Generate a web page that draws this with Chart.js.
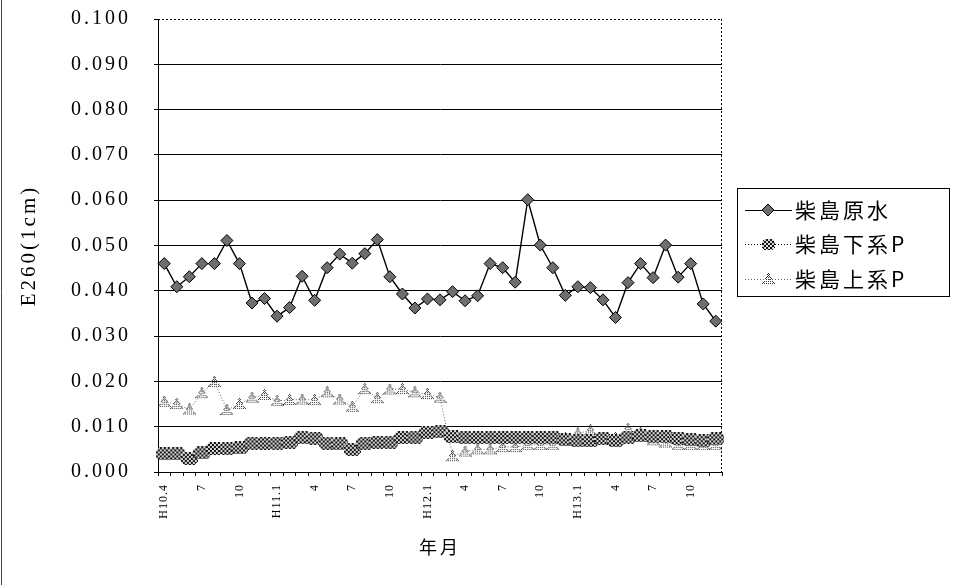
<!DOCTYPE html>
<html><head><meta charset="utf-8">
<script src="https://cdn.jsdelivr.net/npm/chart.js@4.4.0/dist/chart.umd.min.js"></script>
<style>
html,body{margin:0;padding:0;background:#fff;}
#wrap{position:relative;width:953px;height:585px;}
canvas{display:block;}
</style></head><body>
<div id="wrap"><canvas id="c" width="953" height="585"></canvas></div>
<script>
// ---- data ----
const categories = [
  "H10.4","H10.5","H10.6","H10.7","H10.8","H10.9","H10.10","H10.11","H10.12",
  "H11.1","H11.2","H11.3","H11.4","H11.5","H11.6","H11.7","H11.8","H11.9","H11.10","H11.11","H11.12",
  "H12.1","H12.2","H12.3","H12.4","H12.5","H12.6","H12.7","H12.8","H12.9","H12.10","H12.11","H12.12",
  "H13.1","H13.2","H13.3","H13.4","H13.5","H13.6","H13.7","H13.8","H13.9","H13.10","H13.11","H13.12"
];
const tickLabels = [
  "H10.4","","","7","","","10","","",
  "H11.1","","","4","","","7","","","10","","",
  "H12.1","","","4","","","7","","","10","","",
  "H13.1","","","4","","","7","","","10","",""
];
const seriesNames = ["柴島原水", "柴島下系P", "柴島上系P"];
const rawWater = [
  0.0460,0.0409,0.0431,0.0460,0.0460,0.0511,0.0460,0.0373,0.0383,0.0344,
  0.0363,0.0432,0.0379,0.0451,0.0481,0.0461,0.0482,0.0513,0.0431,0.0393,
  0.0362,0.0382,0.0380,0.0398,0.0378,0.0389,0.0460,0.0451,0.0419,0.0601,
  0.0501,0.0451,0.0390,0.0409,0.0407,0.0380,0.0341,0.0418,0.0460,0.0429,
  0.0501,0.0430,0.0460,0.0371,0.0333
];
const lowerP = [
  0.0040,0.0040,0.0030,0.0042,0.0052,0.0052,0.0053,0.0064,0.0064,0.0064,
  0.0066,0.0076,0.0075,0.0064,0.0062,0.0050,0.0064,0.0066,0.0066,0.0076,
  0.0077,0.0088,0.0089,0.0078,0.0076,0.0076,0.0076,0.0076,0.0076,0.0076,
  0.0076,0.0076,0.0071,0.0069,0.0069,0.0074,0.0069,0.0077,0.0080,0.0078,
  0.0078,0.0074,0.0071,0.0069,0.0073
];
const upperP = [
  0.0155,0.0150,0.0138,0.0174,0.0199,0.0137,0.0150,0.0164,0.0170,0.0157,
  0.0159,0.0160,0.0159,0.0176,0.0160,0.0144,0.0183,0.0163,0.0182,0.0183,
  0.0176,0.0172,0.0164,0.0035,0.0045,0.0050,0.0050,0.0055,0.0055,0.0060,
  0.0060,0.0060,0.0075,0.0085,0.0092,0.0075,0.0075,0.0095,0.0085,0.0070,
  0.0065,0.0060,0.0060,0.0060,0.0060
];
const yMin = 0, yMax = 0.1, yStep = 0.01;

// ---- marker images ----
function makeChecker(w, h){
  const c = document.createElement('canvas'); c.width = w; c.height = h;
  const g = c.getContext('2d'); const img = g.createImageData(w, h);
  const mx = (w - 1) / 2, my = (h - 1) / 2;
  for (let j = 0; j < h; j++) for (let i = 0; i < w; i++) {
    const dx = Math.abs(i - mx), dy = Math.abs(j - my);
    if (dx + dy > Math.max(mx, my) + 3) continue;
    const dark = (((i >> 1) + (j >> 1)) & 1) === 0;
    const k = (j * w + i) * 4, v = dark ? 20 : 215;
    img.data[k] = img.data[k+1] = img.data[k+2] = v; img.data[k+3] = 255;
  }
  g.putImageData(img, 0, 0); return c;
}
function makeTri(){
  const w = 13, h = 12, c = document.createElement('canvas'); c.width = w; c.height = h;
  const g = c.getContext('2d'); const img = g.createImageData(w, h); const m = (w - 1) / 2;
  for (let j = 0; j < h; j++) for (let i = 0; i < w; i++) {
    const half = j * 0.55 + 0.5;
    const d = Math.abs(i - m);
    if (d > half) continue;
    const on = ((i + j) % 2 === 0) && (j % 2 === 0 || d > half - 1.2);
    if (!on) continue;
    const k = (j * w + i) * 4;
    img.data[k] = img.data[k+1] = img.data[k+2] = 60; img.data[k+3] = 255;
  }
  g.putImageData(img, 0, 0); return c;
}
const checkerImg = makeChecker(17, 13);
const checkerLegendImg = makeChecker(13, 11);
const triImg = makeTri();

// ---- plugins ----
const spacing = {
  id: 'spacing',
  beforeLayout(chart){ chart.ctx.letterSpacing = '3px'; },
  beforeDraw(chart){ chart.ctx.letterSpacing = '3px'; },
  afterDatasetsDraw(chart){ chart.ctx.letterSpacing = '1px'; },
  afterDraw(chart){ chart.ctx.letterSpacing = '0px'; }
};
const frame = {
  id: 'frame',
  beforeDatasetsDraw(chart){
    const {ctx, chartArea: a} = chart; ctx.save();
    ctx.strokeStyle = '#000'; ctx.lineWidth = 1; ctx.setLineDash([2, 2]);
    ctx.beginPath();
    ctx.moveTo(a.left, Math.round(a.top) + 0.5); ctx.lineTo(a.right, Math.round(a.top) + 0.5);
    ctx.moveTo(Math.round(a.right) - 0.5, a.top); ctx.lineTo(Math.round(a.right) - 0.5, a.bottom);
    ctx.stroke();
    ctx.setLineDash([]); ctx.strokeStyle = '#444';
    ctx.beginPath(); ctx.moveTo(1.5, 0); ctx.lineTo(1.5, chart.height); ctx.stroke();
    ctx.restore();
  }
};
const boxLegend = {
  id: 'boxLegend',
  afterDraw(chart){
    const ctx = chart.ctx; ctx.save();
    ctx.letterSpacing = '3px';
    const bx = 737, by = 188, bw = 212, bh = 108;
    ctx.strokeStyle = '#000'; ctx.lineWidth = 1; ctx.setLineDash([]);
    ctx.strokeRect(bx + 0.5, by + 0.5, bw, bh);
    const rows = [210, 244, 279];
    chart.data.datasets.forEach((ds, i) => {
      const y = rows[i];
      ctx.save();
      ctx.strokeStyle = ds.borderColor; ctx.lineWidth = 1;
      ctx.setLineDash(ds.borderDash || []);
      ctx.beginPath(); ctx.moveTo(745, y + 0.5); ctx.lineTo(792, y + 0.5); ctx.stroke();
      ctx.setLineDash([]);
      const cx = 768;
      if (ds.pointStyle === 'rectRot') {
        ctx.fillStyle = ds.pointBackgroundColor; ctx.strokeStyle = '#000';
        ctx.beginPath(); ctx.moveTo(cx - 6, y); ctx.lineTo(cx, y - 6); ctx.lineTo(cx + 6, y); ctx.lineTo(cx, y + 6); ctx.closePath();
        ctx.fill(); ctx.stroke();
      } else {
        const im = ds.pointStyle === checkerImg ? checkerLegendImg : ds.pointStyle;
        ctx.drawImage(im, Math.round(cx - im.width / 2), Math.round(y - im.height / 2));
      }
      ctx.restore();
      ctx.fillStyle = '#000';
      ctx.font = '21px "Noto Sans CJK JP", sans-serif';
      ctx.textBaseline = 'middle'; ctx.textAlign = 'left';
      ctx.fillText(ds.label, 795, y);
    });
    ctx.restore();
  }
};

// ---- chart ----
const serif = '"Liberation Serif", "Times New Roman", serif';
new Chart(document.getElementById('c'), {
  type: 'line',
  data: {
    labels: categories,
    datasets: [
      { label: seriesNames[0], data: rawWater, borderColor: '#000', borderWidth: 1.4,
        pointStyle: 'rectRot', pointRadius: 6, pointBackgroundColor: '#6e6e6e',
        pointBorderColor: '#000', pointBorderWidth: 1, tension: 0 },
      { label: seriesNames[1], data: lowerP, borderColor: '#000', borderWidth: 1, borderDash: [1, 2],
        pointStyle: checkerImg, pointRadius: 6, tension: 0 },
      { label: seriesNames[2], data: upperP, borderColor: '#666', borderWidth: 1, borderDash: [1, 2],
        pointStyle: triImg, pointRadius: 6, tension: 0 }
    ]
  },
  options: {
    responsive: false, animation: false, events: [],
    devicePixelRatio: 1,
    layout: { padding: { left: 0, right: 231, top: 19, bottom: 0 } },
    plugins: { legend: { display: false }, tooltip: { enabled: false } },
    scales: {
      x: {
        type: 'category', offset: true,
        grid: { display: true, drawOnChartArea: false, drawTicks: true, tickLength: 4, color: '#000', offset: true },
        border: { display: true, color: '#000', width: 1 },
        ticks: { autoSkip: false, minRotation: 90, maxRotation: 90, padding: 8, z: 1,
          color: '#000', font: { family: serif, size: 12 },
          callback: (v, i) => tickLabels[i] },
        title: { display: true, text: '年月', color: '#000',
          font: { family: '"Noto Sans CJK JP", sans-serif', size: 18 }, padding: { top: 0, bottom: 27 } },
        afterFit(scale){ scale.height = 113; scale.paddingLeft = 0; scale.paddingRight = 0; }
      },
      y: {
        min: yMin, max: yMax,
        grid: { color: (c) => (c.tick && c.tick.value > yMax - yStep / 2) ? 'rgba(0,0,0,0)' : '#000',
          tickColor: '#000', drawTicks: true, tickLength: 4, lineWidth: 1 },
        border: { display: true, color: '#000', width: 1 },
        ticks: { stepSize: yStep, padding: 23, color: '#000', font: { family: serif, size: 20 },
          callback: (v) => Number(v).toFixed(3) },
        title: { display: true, text: 'E260(1cm)', color: '#000',
          font: { family: serif, size: 21 }, padding: { top: 17, bottom: 0 } },
        afterFit(scale){ scale.width = 158; scale.paddingTop = 0; scale.paddingBottom = 0; }
      }
    }
  },
  plugins: [spacing, frame, boxLegend]
});
</script>
</body></html>
